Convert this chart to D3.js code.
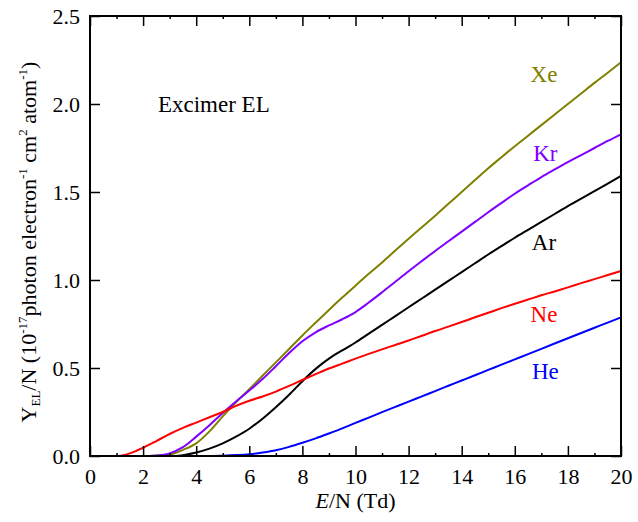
<!DOCTYPE html>
<html><head><meta charset="utf-8">
<script src="https://cdn.jsdelivr.net/npm/d3@7"></script>
<style>body{margin:0;background:#fff}</style>
</head><body><svg id="c" width="638" height="522"></svg>
<script>
// E/N (Td)
const fieldE = [0,0.5,1,1.5,2,2.5,3,3.5,4,4.5,5,5.5,6,6.5,7,7.5,8,8.5,9,9.5,10,10.5,11,11.5,12,12.5,13,13.5,14,14.5,15,15.5,16,16.5,17,17.5,18,18.5,19,19.5,20];
// Y_EL/N (1e-17 photon electron^-1 cm^2 atom^-1)
const yieldXe = [0,0,0,0,0,0.002,0.008,0.035,0.072,0.14,0.225,0.305,0.38,0.456,0.532,0.608,0.685,0.758,0.83,0.9,0.968,1.035,1.1,1.168,1.235,1.30,1.365,1.433,1.50,1.568,1.635,1.698,1.76,1.82,1.88,1.94,2.0,2.06,2.12,2.178,2.237];
const yieldKr = [0,0,0,0,0,0.003,0.015,0.05,0.11,0.175,0.245,0.31,0.372,0.437,0.51,0.585,0.652,0.703,0.742,0.777,0.818,0.872,0.93,0.99,1.05,1.108,1.165,1.22,1.275,1.33,1.385,1.438,1.49,1.538,1.585,1.628,1.67,1.71,1.75,1.79,1.828];
const yieldAr = [0,0,0,0,0,0,0,0.005,0.02,0.042,0.072,0.11,0.155,0.212,0.277,0.348,0.425,0.495,0.553,0.6,0.645,0.695,0.745,0.795,0.845,0.895,0.945,0.995,1.045,1.095,1.145,1.193,1.24,1.285,1.33,1.375,1.42,1.463,1.505,1.548,1.591];
const yieldNe = [0,0,0,0.015,0.047,0.085,0.125,0.16,0.19,0.22,0.25,0.285,0.314,0.338,0.366,0.398,0.432,0.465,0.497,0.525,0.553,0.58,0.606,0.631,0.656,0.683,0.71,0.735,0.761,0.788,0.814,0.84,0.865,0.889,0.913,0.935,0.958,0.982,1.005,1.028,1.051];
const yieldHe = [0,0,0,0,0,0,0,0,0,0,0.002,0.005,0.01,0.02,0.033,0.052,0.075,0.1,0.128,0.157,0.188,0.218,0.249,0.279,0.309,0.339,0.369,0.399,0.429,0.459,0.489,0.519,0.549,0.579,0.609,0.639,0.669,0.699,0.729,0.758,0.788];
const gasNames = ["Xe","Kr","Ar","Ne","He"];
const xTickValues = [0,2,4,6,8,10,12,14,16,18,20];
const xMinorValues = [1,3,5,7,9,11,13,15,17,19];
const yTickValues = [0,0.5,1.0,1.5,2.0,2.5];

const colors = {Xe:"#808000", Kr:"#8000ff", Ar:"#000000", Ne:"#ff0000", He:"#0000ff"};
const values = {Xe:yieldXe, Kr:yieldKr, Ar:yieldAr, Ne:yieldNe, He:yieldHe};
// label anchors in data units
const labelAt = {Xe:[17.1,2.125], Kr:[17.15,1.676], Ar:[17.1,1.17], Ne:[17.1,0.761], He:[17.15,0.44]};

const FONT = "'Liberation Serif', monospace";
const svg = d3.select("#c");
const L=90, R=621, T=16, B=456;
const x = d3.scaleLinear().domain([0,20]).range([L,R]);
const y = d3.scaleLinear().domain([0,2.5]).range([B,T]);

const g = svg.append("g");
const line = d3.line().x(d=>x(d[0])).y(d=>y(d[1])).curve(d3.curveMonotoneX);
gasNames.forEach(n=>{
  const pts = fieldE.map((e,i)=>[e, values[n][i]]);
  g.append("path").attr("d", line(pts)).attr("fill","none")
    .attr("stroke", colors[n]).attr("stroke-width", 2);
});

function style(sel){
  sel.attr("font-family", null).attr("font-size", null);
  sel.select(".domain").remove();
  sel.selectAll(".tick line").attr("stroke","#000").attr("stroke-width",1.5);
  sel.selectAll("text").attr("fill","#000").style("font-family", FONT).style("font-size","22px");
}
svg.append("g").attr("transform",`translate(0,${B})`)
  .call(d3.axisBottom(x).tickValues(xTickValues).tickSize(-10).tickPadding(12).tickFormat(d3.format("d"))).call(style);
svg.append("g").attr("transform",`translate(0,${B})`)
  .call(d3.axisBottom(x).tickValues(xMinorValues).tickSize(-3).tickFormat("")).call(style);
svg.append("g").attr("transform",`translate(0,${T})`)
  .call(d3.axisTop(x).tickValues(xTickValues).tickSize(-10).tickFormat("")).call(style);
svg.append("g").attr("transform",`translate(0,${T})`)
  .call(d3.axisTop(x).tickValues(xMinorValues).tickSize(-3).tickFormat("")).call(style);
svg.append("g").attr("transform",`translate(${L},0)`)
  .call(d3.axisLeft(y).tickValues(yTickValues).tickSize(-10).tickPadding(10).tickFormat(d3.format(".1f"))).call(style);
svg.append("g").attr("transform",`translate(${R},0)`)
  .call(d3.axisRight(y).tickValues(yTickValues).tickSize(-10).tickFormat("")).call(style);

svg.append("rect").attr("x",L).attr("y",T).attr("width",R-L).attr("height",B-T)
  .attr("fill","none").attr("stroke","#000").attr("stroke-width",2);

gasNames.forEach(n=>{
  svg.append("text").attr("x", x(labelAt[n][0])).attr("y", y(labelAt[n][1]))
    .attr("text-anchor","middle").style("font-family",FONT).style("font-size","23px").attr("fill",colors[n]).text(n);
});
svg.append("text").attr("x", x(2.56)).attr("y", y(1.955)).style("font-family",FONT).style("font-size","23px").text("Excimer EL");

const xt = svg.append("text").attr("x",(L+R)/2).attr("y",508).attr("text-anchor","middle").style("font-family",FONT).style("font-size","22px");
xt.append("tspan").style("font-style","italic").text("E");
xt.append("tspan").text("/N (Td)");

const yt = svg.append("text").attr("transform","translate(36,242) rotate(-90)").attr("text-anchor","middle").style("font-family",FONT).style("font-size","22px");
const sup = (t)=>{ yt.append("tspan").style("font-size","13px").attr("dy",-9).text(t); };
const base = (t)=>{ yt.append("tspan").attr("dy",9).text(t); };
yt.append("tspan").text("Y");
yt.append("tspan").style("font-size","13px").attr("dy",4).text("EL");
yt.append("tspan").attr("dy",-4).text("/N (10");
sup("-17"); base("photon electron");
sup("-1"); base(" cm");
sup("2"); base(" atom");
sup("-1"); base(")");
</script></body></html>
